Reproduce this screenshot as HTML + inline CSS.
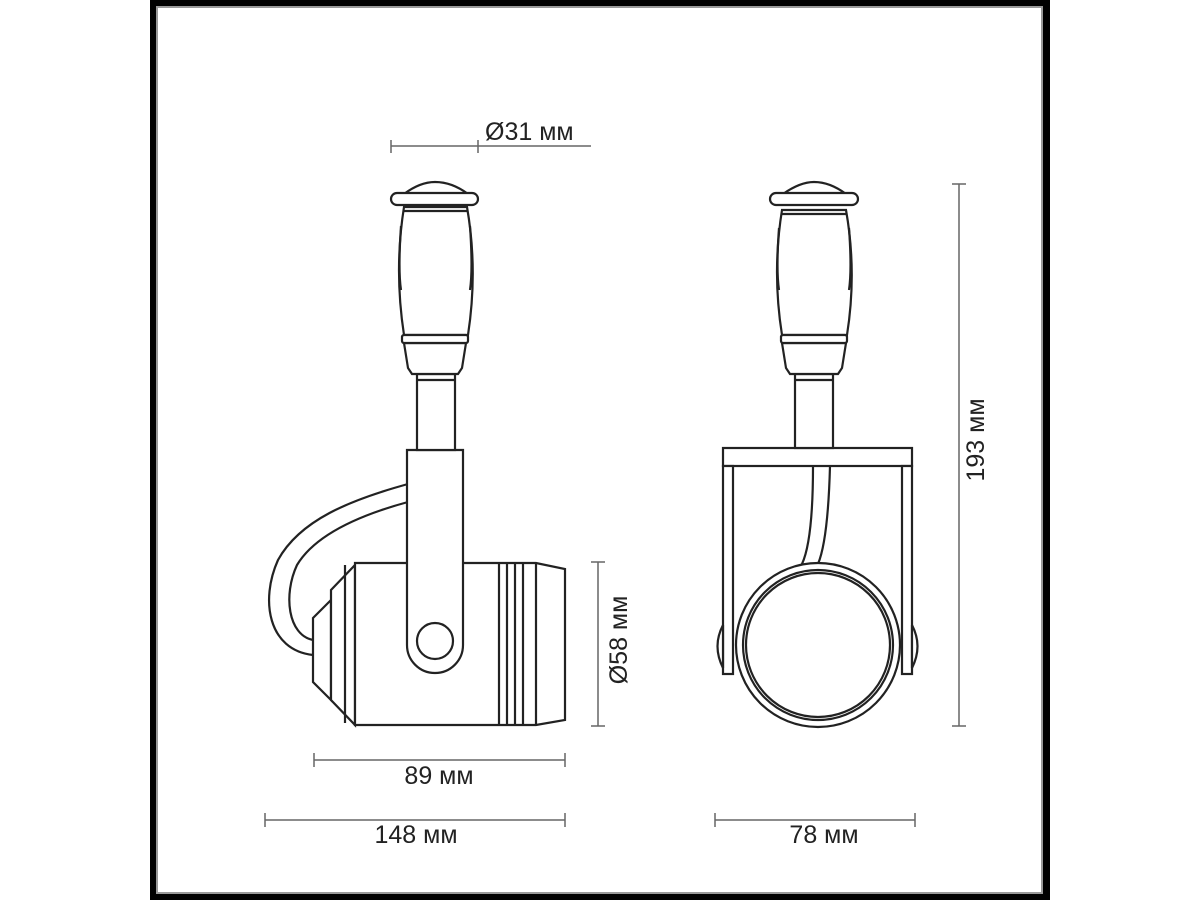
<!DOCTYPE html>
<html><head><meta charset="utf-8"><style>
html,body{margin:0;padding:0;background:#fff}
svg{display:block}
text{font-family:"Liberation Sans",sans-serif;fill:#222;font-size:25px}
</style></head><body>
<svg width="1200" height="900" viewBox="0 0 1200 900">
<rect x="0" y="0" width="1200" height="900" fill="#fff"/>
<rect x="150" y="0" width="900" height="900" fill="#000"/>
<rect x="156" y="6" width="887" height="888" fill="#999"/>
<rect x="158" y="8" width="883" height="884" fill="#fff"/>

<g fill="#fff" stroke="#222" stroke-width="2.2">
<path d="M408 484 C350 500 300 520 278 560 C260 600 268 650 313 655" fill="none"/>
<path d="M408 502 C360 515 315 535 297 565 C283 595 288 635 313 640" fill="none"/>
<path d="M313 618 L331 600 L331 700 L313 682 Z"/>
<path d="M331 590 L355 565 L355 725 L331 700 Z"/>
<path d="M355 563 L536 563 L565 569 L565 720 L536 725 L355 725 Z"/>
<line x1="345" y1="565" x2="345" y2="723"/>
<line x1="499" y1="563" x2="499" y2="725"/>
<line x1="507" y1="563" x2="507" y2="725"/>
<line x1="515" y1="563" x2="515" y2="725"/>
<line x1="523" y1="563" x2="523" y2="725"/>
<line x1="536" y1="563" x2="536" y2="725"/>
<path d="M407 450 L463 450 L463 645 A28 28 0 0 1 407 645 Z"/>
<circle cx="435" cy="641" r="18"/>
<rect x="417" y="374" width="38" height="76"/>
<line x1="417" y1="380" x2="455" y2="380"/>
<path d="M404 343 L466 343 L462 368 L458 374 L412 374 L408 368 Z"/>
<path d="M404 207 L467 207 Q478 270 468 335 L404 335 Q394 270 404 207 Z"/>
<path d="M401 226 Q398 270 401 290" fill="none"/>
<path d="M470 226 Q473 270 470 290" fill="none"/>
<rect x="402" y="335" width="66" height="8" rx="2"/>
<line x1="404" y1="211" x2="467" y2="211"/>
<path d="M404 194 Q420 182 435 182 Q452 182 468 194 Z"/>
<rect x="391" y="193" width="87" height="12" rx="6"/>

<rect x="723" y="448" width="189" height="18"/>
<rect x="723" y="466" width="10" height="208"/>
<rect x="902" y="466" width="10" height="208"/>
<path d="M723 625 Q712 646 723 668 Z"/>
<path d="M912 625 Q923 646 912 668 Z"/>
<path d="M813 466 Q813 540 802 564" fill="none"/>
<path d="M830 466 Q828 540 818 564" fill="none"/>
<ellipse cx="818" cy="645" rx="82" ry="82"/>
<ellipse cx="818" cy="645" rx="75" ry="75"/>
<ellipse cx="818" cy="645" rx="72" ry="72"/>
<rect x="795" y="374" width="38" height="74"/>
<line x1="795" y1="380" x2="833" y2="380"/>
<path d="M782 343 L846 343 L842 368 L838 374 L790 374 L786 368 Z"/>
<path d="M782 210 L846 210 Q857 272 847 335 L782 335 Q772 272 782 210 Z"/>
<path d="M779 228 Q776 270 779 290" fill="none"/>
<path d="M849 228 Q852 270 849 290" fill="none"/>
<rect x="781" y="335" width="66" height="8" rx="2"/>
<line x1="782" y1="214" x2="846" y2="214"/>
<path d="M783 194 Q800 182 814 182 Q830 182 846 194 Z"/>
<rect x="770" y="193" width="88" height="12" rx="6"/>
</g>

<g stroke="#666" stroke-width="1.5" fill="none">
<line x1="391" y1="146" x2="591" y2="146"/>
<line x1="391" y1="140" x2="391" y2="153"/>
<line x1="478" y1="140" x2="478" y2="153"/>
<line x1="598" y1="562" x2="598" y2="726"/>
<line x1="591" y1="562" x2="605" y2="562"/>
<line x1="591" y1="726" x2="605" y2="726"/>
<line x1="959" y1="184" x2="959" y2="726"/>
<line x1="952" y1="184" x2="966" y2="184"/>
<line x1="952" y1="726" x2="966" y2="726"/>
<line x1="314" y1="760" x2="565" y2="760"/>
<line x1="314" y1="753" x2="314" y2="767"/>
<line x1="565" y1="753" x2="565" y2="767"/>
<line x1="265" y1="820" x2="565" y2="820"/>
<line x1="265" y1="813" x2="265" y2="827"/>
<line x1="565" y1="813" x2="565" y2="827"/>
<line x1="715" y1="820" x2="915" y2="820"/>
<line x1="715" y1="813" x2="715" y2="827"/>
<line x1="915" y1="813" x2="915" y2="827"/>
</g>
<text x="485" y="140">Ø31 мм</text>
<text x="439" y="784" text-anchor="middle">89 мм</text>
<text x="416" y="843" text-anchor="middle">148 мм</text>
<text x="824" y="843" text-anchor="middle">78 мм</text>
<text transform="translate(627,640) rotate(-90)" text-anchor="middle">Ø58 мм</text>
<text transform="translate(984,440) rotate(-90)" text-anchor="middle">193 мм</text>
</svg>
</body></html>
